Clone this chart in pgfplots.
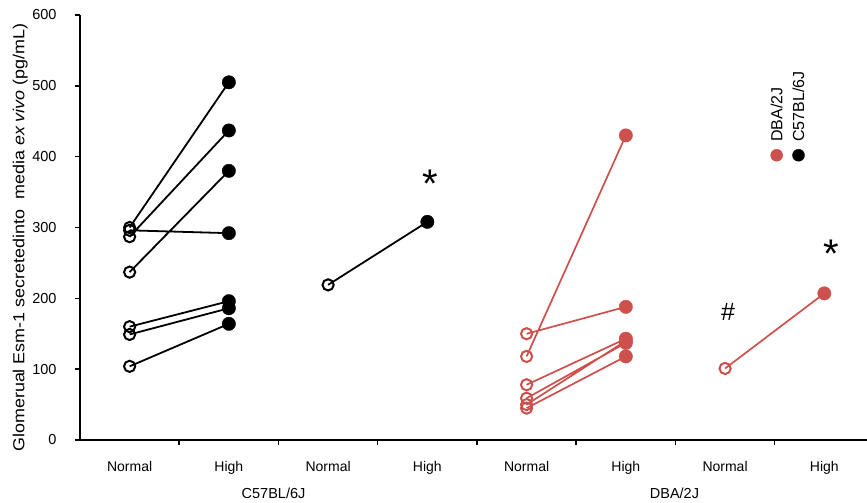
\documentclass[border=0pt]{standalone}
\usepackage{pgfplots}
\pgfplotsset{compat=1.18}
\usepackage{pgfplotstable}
\usepackage{fontspec}
\setmainfont{Liberation Sans}
\definecolor{dred}{RGB}{206,80,76}

% C57BL/6J individual pairs (Normal at x=0, High at x=1)
\pgfplotstableread{
x y c
0 300 n
1 505 h
nan nan n
0 287 n
1 437 h
nan nan n
0 296 n
1 292 h
nan nan n
0 237 n
1 380 h
nan nan n
0 160 n
1 196 h
nan nan n
0 149 n
1 186 h
nan nan n
0 104 n
1 164 h
}\cfiveind

\pgfplotstableread{
x y c
2 219 n
3 308 h
}\cfivemean

% DBA/2J individual pairs (Normal at x=4, High at x=5)
\pgfplotstableread{
x y c
4 118 n
5 430 h
nan nan n
4 150 n
5 188 h
nan nan n
4 78 n
5 143 h
nan nan n
4 59 n
5 137 h
nan nan n
4 50 n
5 140 h
nan nan n
4 45 n
5 118 h
}\dbaind

\pgfplotstableread{
x y c
6 101 n
7 207 h
}\dbamean

\begin{document}
\begin{tikzpicture}
\path[use as bounding box] (-80bp,-63bp) rectangle (787bp,440bp);
\begin{axis}[
  at={(0,0)}, anchor=south west,
  scale only axis, width=787bp, height=425bp,
  xmin=-0.5, xmax=7.43, ymin=0, ymax=600,
  axis lines=left,
  axis line style={-, line width=2bp},
  tick align=outside,
  major tick length=5bp,
  tick style={line width=1.5bp, black},
  ytick={0,100,...,600},
  xtick={0.5,1.5,...,6.5}, xticklabels={},
  extra x ticks={0,1,2,3,4,5,6,7},
  extra x tick labels={Normal,High,Normal,High,Normal,High,Normal,High},
  extra x tick style={major tick length=0pt, tick label style={yshift=-18bp}},
  ticklabel style={font=\fontsize{14bp}{16bp}\selectfont},
  yticklabel style={xshift=-15bp, font=\fontsize{14.5bp}{16bp}\selectfont},
  /pgf/number format/assume math mode=true,
  every axis y label/.style={at={(axis description cs:-0.076,-0.028)}, rotate=90, anchor=west, inner sep=0pt},
  ylabel={\scalebox{1.12}[1]{\fontsize{16bp}{18bp}\selectfont Glomerual Esm-1 secretedinto\ \ media \textit{ex vivo} (pg/mL)}},
  clip=false,
  unbounded coords=jump,
]
% lines
\addplot[black, line width=1.8bp, mark=none] table[x=x, y=y] {\cfiveind};
\addplot[black, line width=1.8bp, mark=none] table[x=x, y=y] {\cfivemean};
\addplot[dred, line width=1.7bp, mark=none] table[x=x, y=y] {\dbaind};
\addplot[dred, line width=1.7bp, mark=none] table[x=x, y=y] {\dbamean};
% markers
\addplot[only marks, scatter, scatter src=explicit symbolic,
  scatter/classes={n={mark=o, mark size=5.6bp, draw=black, line width=2bp},
                   h={mark=*, mark size=6.7bp, draw=black, fill=black}}]
  table[x=x, y=y, meta=c] {\cfiveind};
\addplot[only marks, scatter, scatter src=explicit symbolic,
  scatter/classes={n={mark=o, mark size=5.6bp, draw=black, line width=2bp},
                   h={mark=*, mark size=6.7bp, draw=black, fill=black}}]
  table[x=x, y=y, meta=c] {\cfivemean};
\addplot[only marks, scatter, scatter src=explicit symbolic,
  scatter/classes={n={mark=o, mark size=5.6bp, draw=dred, line width=2bp},
                   h={mark=*, mark size=6.7bp, draw=dred, fill=dred}}]
  table[x=x, y=y, meta=c] {\dbaind};
\addplot[only marks, scatter, scatter src=explicit symbolic,
  scatter/classes={n={mark=o, mark size=5.6bp, draw=dred, line width=2bp},
                   h={mark=*, mark size=6.7bp, draw=dred, fill=dred}}]
  table[x=x, y=y, meta=c] {\dbamean};
% legend dots
\addplot[only marks, mark=*, mark size=6bp, draw=dred, fill=dred] coordinates {(6.52,402)};
\addplot[only marks, mark=*, mark size=6bp, draw=black, fill=black] coordinates {(6.74,402)};
% legend text
\node[rotate=90, anchor=west, inner sep=0pt, font=\fontsize{16bp}{18bp}\selectfont] at (axis cs:6.52,421) {DBA/2J};
\node[rotate=90, anchor=west, inner sep=0pt, font=\fontsize{16bp}{18bp}\selectfont] at (axis cs:6.74,421) {C57BL/6J};
% significance marks
\node[font=\fontsize{40bp}{40bp}\selectfont] at (axis cs:3.03,362) {*};
\node[font=\fontsize{40bp}{40bp}\selectfont] at (axis cs:7.07,263) {*};
\node[font=\fontsize{25bp}{27bp}\selectfont] at (axis cs:6.03,181) {\#};
% group labels
\node[font=\fontsize{14.5bp}{16bp}\selectfont] at (axis cs:1.45,-75) {C57BL/6J};
\node[font=\fontsize{14.5bp}{16bp}\selectfont] at (axis cs:5.49,-75) {DBA/2J};
\end{axis}
\end{tikzpicture}
\end{document}
